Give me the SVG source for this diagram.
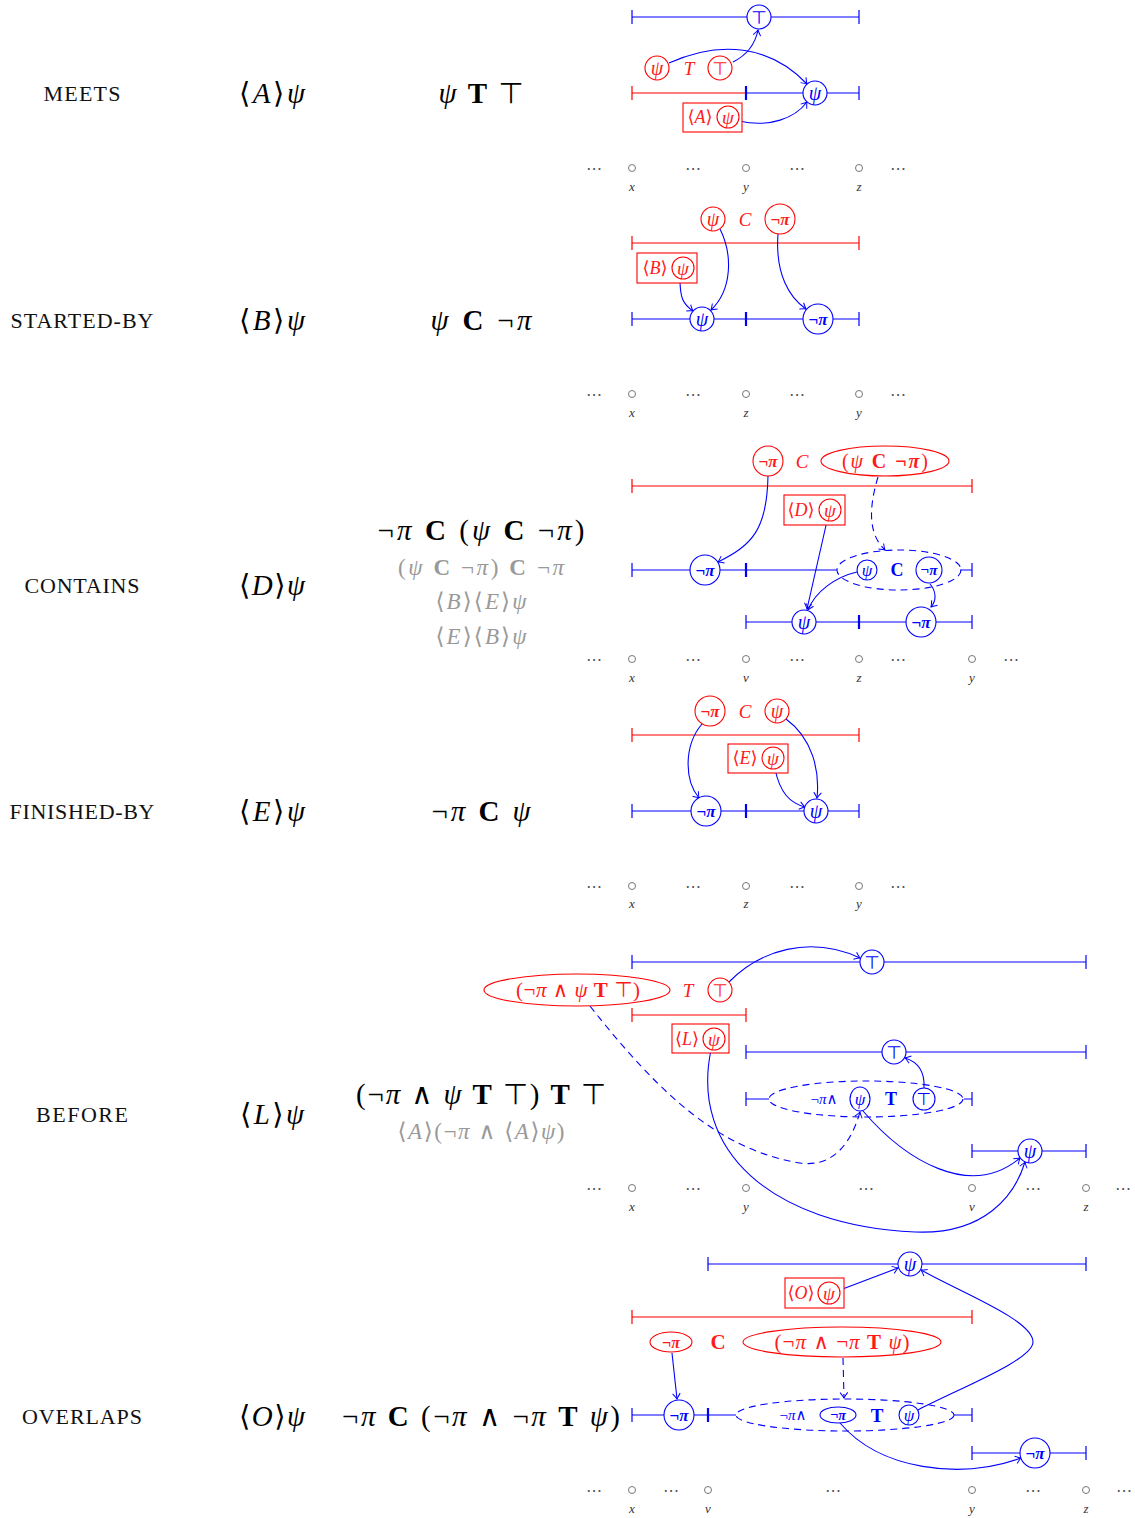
<svg xmlns="http://www.w3.org/2000/svg" width="1135" height="1518" viewBox="0 0 1135 1518">
<defs>
<style>
.bl{fill:none;stroke:#0000ff;stroke-width:1.2}
.rl{fill:none;stroke:#ff0000;stroke-width:1.2}
.tk{stroke-width:2.2}
.nb{fill:#fff;stroke:#0000ff;stroke-width:1.1}
.nr{fill:#fff;stroke:#ff0000;stroke-width:1.1}
.dsh{fill:none;stroke:#0000ff;stroke-width:1.1;stroke-dasharray:7 5}
.con{fill:none;stroke:#0000ff;stroke-width:1.1;marker-end:url(#ah)}
.cond{fill:none;stroke:#0000ff;stroke-width:1.1;stroke-dasharray:7 5;marker-end:url(#ah)}
text{font-family:"Liberation Serif","DejaVu Serif",serif;text-anchor:middle;dominant-baseline:central}
.lab{font-size:22px;fill:#111}
.f{font-size:29px;fill:#000}
.fg{font-size:23px;fill:#999}
.i{font-style:italic}
.bo{font-weight:bold}
.s{font-family:"DejaVu Sans",sans-serif;font-weight:normal;font-style:normal}
.cr{fill:#ff1a1a}
.cb{fill:#0000ff}
.dots{font-family:"DejaVu Sans",sans-serif;font-size:16px;fill:#555}
.pt{fill:none;stroke:#777;stroke-width:1}
.ax{font-style:italic;font-size:13px;fill:#333}
</style>
<marker id="ah" viewBox="-7 -5 8 10" refX="0" refY="0" markerWidth="8" markerHeight="10" markerUnits="userSpaceOnUse" orient="auto">
<path d="M-5.5,-3.8 Q-1.8,-0.9 0,0 Q-1.8,0.9 -5.5,3.8" fill="none" stroke="#0000ff" stroke-width="1"/>
</marker>
</defs>
<rect width="1135" height="1518" fill="#fff"/>

<!-- ===== Left column labels and formulas ===== -->
<g id="row-meets-text">
<text class="lab" x="82" y="93" textLength="77" lengthAdjust="spacing">MEETS</text>
<text class="f" x="272" y="93" textLength="66" lengthAdjust="spacing">⟨<tspan class="i">A</tspan>⟩<tspan class="i">ψ</tspan></text>
<text class="f" x="481" y="93" textLength="85" lengthAdjust="spacing"><tspan class="i">ψ</tspan> <tspan class="bo">T</tspan> <tspan class="s">⊤</tspan></text>
</g>
<g id="row-startedby-text">
<text class="lab" x="82" y="320" textLength="143" lengthAdjust="spacing">STARTED-BY</text>
<text class="f" x="272" y="320" textLength="66" lengthAdjust="spacing">⟨<tspan class="i">B</tspan>⟩<tspan class="i">ψ</tspan></text>
<text class="f" x="481" y="320" textLength="101" lengthAdjust="spacing"><tspan class="i">ψ</tspan> <tspan class="bo">C</tspan> ¬<tspan class="i">π</tspan></text>
</g>
<g id="row-contains-text">
<text class="lab" x="82" y="585" textLength="115" lengthAdjust="spacing">CONTAINS</text>
<text class="f" x="272" y="585" textLength="66" lengthAdjust="spacing">⟨<tspan class="i">D</tspan>⟩<tspan class="i">ψ</tspan></text>
<text class="f" x="481" y="530" textLength="207" lengthAdjust="spacing">¬<tspan class="i">π</tspan> <tspan class="bo">C</tspan> (<tspan class="i">ψ</tspan> <tspan class="bo">C</tspan> ¬<tspan class="i">π</tspan>)</text>
<text class="fg" x="481" y="567" textLength="166" lengthAdjust="spacing">(<tspan class="i">ψ</tspan> <tspan class="bo">C</tspan> ¬<tspan class="i">π</tspan>) <tspan class="bo">C</tspan> ¬<tspan class="i">π</tspan></text>
<text class="fg" x="481" y="601" textLength="91" lengthAdjust="spacing">⟨<tspan class="i">B</tspan>⟩⟨<tspan class="i">E</tspan>⟩<tspan class="i">ψ</tspan></text>
<text class="fg" x="481" y="636" textLength="91" lengthAdjust="spacing">⟨<tspan class="i">E</tspan>⟩⟨<tspan class="i">B</tspan>⟩<tspan class="i">ψ</tspan></text>
</g>
<g id="row-finishedby-text">
<text class="lab" x="82" y="811" textLength="145" lengthAdjust="spacing">FINISHED-BY</text>
<text class="f" x="272" y="811" textLength="66" lengthAdjust="spacing">⟨<tspan class="i">E</tspan>⟩<tspan class="i">ψ</tspan></text>
<text class="f" x="481" y="811" textLength="99" lengthAdjust="spacing">¬<tspan class="i">π</tspan> <tspan class="bo">C</tspan> <tspan class="i">ψ</tspan></text>
</g>
<g id="row-before-text">
<text class="lab" x="82" y="1114" textLength="92" lengthAdjust="spacing">BEFORE</text>
<text class="f" x="272" y="1114" textLength="64" lengthAdjust="spacing">⟨<tspan class="i">L</tspan>⟩<tspan class="i">ψ</tspan></text>
<text class="f" x="481" y="1094" textLength="250" lengthAdjust="spacing">(¬<tspan class="i">π</tspan> ∧ <tspan class="i">ψ</tspan> <tspan class="bo">T</tspan> <tspan class="s">⊤</tspan>) <tspan class="bo">T</tspan> <tspan class="s">⊤</tspan></text>
<text class="fg" x="481" y="1131" textLength="167" lengthAdjust="spacing">⟨<tspan class="i">A</tspan>⟩(¬<tspan class="i">π</tspan> ∧ ⟨<tspan class="i">A</tspan>⟩<tspan class="i">ψ</tspan>)</text>
</g>
<g id="row-overlaps-text">
<text class="lab" x="82" y="1416" textLength="120" lengthAdjust="spacing">OVERLAPS</text>
<text class="f" x="272" y="1416" textLength="66" lengthAdjust="spacing">⟨<tspan class="i">O</tspan>⟩<tspan class="i">ψ</tspan></text>
<text class="f" x="481" y="1416" textLength="278" lengthAdjust="spacing">¬<tspan class="i">π</tspan> <tspan class="bo">C</tspan> (¬<tspan class="i">π</tspan> ∧ ¬<tspan class="i">π</tspan> <tspan class="bo">T</tspan> <tspan class="i">ψ</tspan>)</text>
</g>

<!-- ===== Intervals ===== -->
<g id="intervals">
<path class="bl" d="M632,17H859M632,10V24M859,10V24"/>
<path class="rl" d="M632,93H746M632,86V100"/>
<path class="bl" d="M746,93H859M859,86V100"/>
<path class="bl tk" d="M746,86V100"/>
<path class="rl" d="M632,243H859M632,236V250M859,236V250"/>
<path class="bl" d="M632,319H859M632,312V326M859,312V326"/>
<path class="bl tk" d="M746,312V326"/>
<path class="rl" d="M632,486H972M632,479V493M972,479V493"/>
<path class="bl" d="M632,570H837M632,563V577M960,570H972M972,563V577"/>
<path class="bl tk" d="M746,563V577"/>
<path class="bl" d="M746,622H972M746,615V629M972,615V629"/>
<path class="bl tk" d="M859,615V629"/>
<path class="rl" d="M632,735H859M632,728V742M859,728V742"/>
<path class="bl" d="M632,811H859M632,804V818M859,804V818"/>
<path class="bl tk" d="M746,804V818"/>
<path class="bl" d="M632,962H1086M632,955V969M1086,955V969"/>
<path class="rl" d="M632,1015H746M632,1008V1022M746,1008V1022"/>
<path class="bl" d="M746,1052H1086M746,1045V1059M1086,1045V1059"/>
<path class="bl" d="M746,1092V1106M746,1099H769M964,1099H972M972,1092V1106"/>
<path class="bl" d="M972,1151H1086M972,1144V1158M1086,1144V1158"/>
<path class="bl" d="M708,1264H1086M708,1257V1271M1086,1257V1271"/>
<path class="rl" d="M632,1317H972M632,1310V1324M972,1310V1324"/>
<path class="bl" d="M632,1415H736M632,1408V1422M954,1415H972M972,1408V1422"/>
<path class="bl tk" d="M708,1408V1422"/>
<path class="bl" d="M972,1453H1086M972,1446V1460M1086,1446V1460"/>
</g>

<!-- ===== Connectors ===== -->
<g id="connectors">
<path class="con" d="M733,62C745,56 755,45 758,30"/>
<path class="con" d="M669,63C720,40 770,45 807,84"/>
<path class="con" d="M739,121C770,128 795,118 807,102"/>
<path class="con" d="M680,279C680,298 683,304 693,311"/>
<path class="con" d="M720,229C733,255 732,290 711,310"/>
<path class="con" d="M778,234C775,275 790,298 806,309"/>
<path class="con" d="M768,476C767,530 752,545 718,562"/>
<path class="cond" d="M878,477C868,510 869,535 885,550"/>
<path class="con" d="M827,521L807,609"/>
<path class="con" d="M857,572C835,577 815,592 808,610"/>
<path class="con" d="M930,584C936,591 937,600 931,607"/>
<path class="con" d="M702,724C684,745 684,780 699,798"/>
<path class="con" d="M786,719C812,738 820,770 817,798"/>
<path class="con" d="M775,769C780,793 790,803 805,807"/>
<path class="con" d="M729,982C760,950 810,935 860,958"/>
<path class="con" d="M924,1088C925,1072 918,1062 905,1058"/>
<path class="cond" d="M590,1006C660,1095 720,1150 800,1163C835,1168 852,1140 860,1112"/>
<path class="con" d="M711,1050C690,1150 770,1225 915,1232C985,1235 1015,1195 1025,1162"/>
<path class="con" d="M863,1111C905,1160 970,1200 1020,1158"/>
<path class="con" d="M840,1290L898,1268"/>
<path class="con" d="M918,1410C960,1388 1033,1360 1033,1342C1033,1320 960,1292 921,1270"/>
<path class="con" d="M672,1353L677,1399"/>
<path class="cond" d="M843,1358L844,1398"/>
<path class="con" d="M840,1423C880,1470 960,1480 1021,1458"/>
</g>

<!-- ===== Nodes: MEETS ===== -->
<g id="m-top-b"><circle class="nb" cx="759" cy="17" r="12"/><text class="s cb" x="759" y="17" font-size="18">⊤</text></g>
<g id="m-psi-r"><circle class="nr" cx="657" cy="68" r="12"/><text class="i cr" x="657" y="68" font-size="20">ψ</text></g>
<g id="m-T"><text class="i cr" x="689" y="68" font-size="19">T</text></g>
<g id="m-top-r"><circle class="nr" cx="720" cy="68" r="12"/><text class="s cr" x="720" y="68" font-size="18">⊤</text></g>
<g id="m-psi-b"><circle class="nb" cx="815" cy="93" r="12"/><text class="i cb" x="815" y="93" font-size="20">ψ</text></g>
<g id="m-box"><rect x="683" y="103" width="59" height="29" fill="#fff" stroke="#ff0000" stroke-width="1.1"/><text class="cr" x="700" y="117" font-size="18">⟨<tspan class="i">A</tspan>⟩</text><circle class="nr" cx="728" cy="117" r="11"/><text class="i cr" x="728" y="117" font-size="19">ψ</text></g>
<g id="m-axis">
<text class="dots" x="594" y="168">⋯</text><circle class="pt" cx="632" cy="168" r="3.5"/><text class="dots" x="693" y="168">⋯</text><circle class="pt" cx="746" cy="168" r="3.5"/><text class="dots" x="797" y="168">⋯</text><circle class="pt" cx="859" cy="168" r="3.5"/><text class="dots" x="898" y="168">⋯</text>
<text class="ax" x="632" y="186">x</text><text class="ax" x="746" y="186">y</text><text class="ax" x="859" y="186">z</text>
</g>

<!-- ===== Nodes: STARTED-BY ===== -->
<g id="s-psi-r"><circle class="nr" cx="713" cy="219" r="12"/><text class="i cr" x="713" y="219" font-size="20">ψ</text></g>
<g id="s-C"><text class="i cr" x="745" y="219" font-size="19">C</text></g>
<g id="s-npi-r"><circle class="nr" cx="780" cy="219" r="15"/><text class="bo cr" x="780" y="219" font-size="17">¬<tspan class="i">π</tspan></text></g>
<g id="s-box"><rect x="637" y="253" width="60" height="30" fill="#fff" stroke="#ff0000" stroke-width="1.1"/><text class="cr" x="655" y="268" font-size="18">⟨<tspan class="i">B</tspan>⟩</text><circle class="nr" cx="683" cy="268" r="11"/><text class="i cr" x="683" y="268" font-size="19">ψ</text></g>
<g id="s-psi-b"><circle class="nb" cx="702" cy="319" r="12"/><text class="i cb" x="702" y="319" font-size="20">ψ</text></g>
<g id="s-npi-b"><circle class="nb" cx="818" cy="319" r="15"/><text class="bo cb" x="818" y="319" font-size="17">¬<tspan class="i">π</tspan></text></g>
<g id="s-axis">
<text class="dots" x="594" y="394">⋯</text><circle class="pt" cx="632" cy="394" r="3.5"/><text class="dots" x="693" y="394">⋯</text><circle class="pt" cx="746" cy="394" r="3.5"/><text class="dots" x="797" y="394">⋯</text><circle class="pt" cx="859" cy="394" r="3.5"/><text class="dots" x="898" y="394">⋯</text>
<text class="ax" x="632" y="412">x</text><text class="ax" x="746" y="412">z</text><text class="ax" x="859" y="412">y</text>
</g>

<!-- ===== Nodes: CONTAINS ===== -->
<g id="c-npi-r"><circle class="nr" cx="768" cy="461" r="15"/><text class="bo cr" x="768" y="461" font-size="17">¬<tspan class="i">π</tspan></text></g>
<g id="c-C"><text class="i cr" x="802" y="461" font-size="19">C</text></g>
<g id="c-ell-r"><ellipse cx="885" cy="461" rx="64" ry="15" fill="#fff" stroke="#ff0000" stroke-width="1.1"/><text class="cr" x="885" y="461" font-size="20" textLength="86" lengthAdjust="spacing">(<tspan class="i">ψ</tspan> <tspan class="bo">C</tspan> <tspan class="bo">¬<tspan class="i">π</tspan></tspan>)</text></g>
<g id="c-box"><rect x="784" y="495" width="61" height="30" fill="#fff" stroke="#ff0000" stroke-width="1.1"/><text class="cr" x="801" y="510" font-size="18">⟨<tspan class="i">D</tspan>⟩</text><circle class="nr" cx="830" cy="510" r="11"/><text class="i cr" x="830" y="510" font-size="19">ψ</text></g>
<g id="c-npi-b1"><circle class="nb" cx="705" cy="570" r="15"/><text class="bo cb" x="705" y="570" font-size="17">¬<tspan class="i">π</tspan></text></g>
<g id="c-ell-b">
<ellipse class="dsh" cx="899" cy="570" rx="62" ry="20"/>
<circle class="nb" cx="867" cy="570" r="10"/><text class="i cb" x="867" y="570" font-size="17">ψ</text>
<text class="bo cb" x="897" y="570" font-size="18">C</text>
<circle class="nb" cx="929" cy="570" r="13"/><text class="bo cb" x="929" y="570" font-size="15">¬<tspan class="i">π</tspan></text>
</g>
<g id="c-psi-b"><circle class="nb" cx="804" cy="622" r="12"/><text class="i cb" x="804" y="622" font-size="20">ψ</text></g>
<g id="c-npi-b2"><circle class="nb" cx="921" cy="622" r="15"/><text class="bo cb" x="921" y="622" font-size="17">¬<tspan class="i">π</tspan></text></g>
<g id="c-axis">
<text class="dots" x="594" y="659">⋯</text><circle class="pt" cx="632" cy="659" r="3.5"/><text class="dots" x="693" y="659">⋯</text><circle class="pt" cx="746" cy="659" r="3.5"/><text class="dots" x="797" y="659">⋯</text><circle class="pt" cx="859" cy="659" r="3.5"/><text class="dots" x="898" y="659">⋯</text><circle class="pt" cx="972" cy="659" r="3.5"/><text class="dots" x="1011" y="659">⋯</text>
<text class="ax" x="632" y="677">x</text><text class="ax" x="746" y="677">v</text><text class="ax" x="859" y="677">z</text><text class="ax" x="972" y="677">y</text>
</g>

<!-- ===== Nodes: FINISHED-BY ===== -->
<g id="f-npi-r"><circle class="nr" cx="710" cy="711" r="15"/><text class="bo cr" x="710" y="711" font-size="17">¬<tspan class="i">π</tspan></text></g>
<g id="f-C"><text class="i cr" x="745" y="711" font-size="19">C</text></g>
<g id="f-psi-r"><circle class="nr" cx="777" cy="711" r="12"/><text class="i cr" x="777" y="711" font-size="20">ψ</text></g>
<g id="f-box"><rect x="728" y="744" width="60" height="29" fill="#fff" stroke="#ff0000" stroke-width="1.1"/><text class="cr" x="745" y="758" font-size="18">⟨<tspan class="i">E</tspan>⟩</text><circle class="nr" cx="773" cy="758" r="11"/><text class="i cr" x="773" y="758" font-size="19">ψ</text></g>
<g id="f-npi-b"><circle class="nb" cx="706" cy="811" r="15"/><text class="bo cb" x="706" y="811" font-size="17">¬<tspan class="i">π</tspan></text></g>
<g id="f-psi-b"><circle class="nb" cx="816" cy="811" r="12"/><text class="i cb" x="816" y="811" font-size="20">ψ</text></g>
<g id="f-axis">
<text class="dots" x="594" y="886">⋯</text><circle class="pt" cx="632" cy="886" r="3.5"/><text class="dots" x="693" y="886">⋯</text><circle class="pt" cx="746" cy="886" r="3.5"/><text class="dots" x="797" y="886">⋯</text><circle class="pt" cx="859" cy="886" r="3.5"/><text class="dots" x="898" y="886">⋯</text>
<text class="ax" x="632" y="903">x</text><text class="ax" x="746" y="903">z</text><text class="ax" x="859" y="903">y</text>
</g>

<!-- ===== Nodes: BEFORE ===== -->
<g id="b-top-b1"><circle class="nb" cx="872" cy="962" r="12"/><text class="s cb" x="872" y="962" font-size="18">⊤</text></g>
<g id="b-ell-r"><ellipse cx="577" cy="990" rx="93" ry="16" fill="#fff" stroke="#ff0000" stroke-width="1.1"/><text class="cr" x="578" y="990" font-size="21" textLength="124" lengthAdjust="spacing">(¬<tspan class="i">π</tspan> ∧ <tspan class="i">ψ</tspan> <tspan class="bo">T</tspan> <tspan class="s">⊤</tspan>)</text></g>
<g id="b-T"><text class="i cr" x="688" y="990" font-size="19">T</text></g>
<g id="b-top-r"><circle class="nr" cx="720" cy="990" r="12"/><text class="s cr" x="720" y="990" font-size="18">⊤</text></g>
<g id="b-box"><rect x="672" y="1024" width="57" height="29" fill="#fff" stroke="#ff0000" stroke-width="1.1"/><text class="cr" x="687" y="1039" font-size="18">⟨<tspan class="i">L</tspan>⟩</text><circle class="nr" cx="714" cy="1039" r="11"/><text class="i cr" x="714" y="1039" font-size="19">ψ</text></g>
<g id="b-top-b2"><circle class="nb" cx="894" cy="1052" r="12"/><text class="s cb" x="894" y="1052" font-size="18">⊤</text></g>
<g id="b-ell-b">
<ellipse class="dsh" cx="866" cy="1099" rx="97" ry="18"/>
<text class="cb" x="824" y="1099" font-size="15">¬<tspan class="i">π</tspan>∧</text>
<ellipse class="nb" cx="860" cy="1099" rx="10" ry="12"/><text class="i cb" x="860" y="1099" font-size="17">ψ</text>
<text class="bo cb" x="891" y="1099" font-size="18">T</text>
<circle class="nb" cx="924" cy="1099" r="11"/><text class="s cb" x="924" y="1099" font-size="17">⊤</text>
</g>
<g id="b-psi-b"><circle class="nb" cx="1030" cy="1151" r="12"/><text class="i cb" x="1030" y="1151" font-size="20">ψ</text></g>
<g id="b-axis">
<text class="dots" x="594" y="1188">⋯</text><circle class="pt" cx="632" cy="1188" r="3.5"/><text class="dots" x="693" y="1188">⋯</text><circle class="pt" cx="746" cy="1188" r="3.5"/><text class="dots" x="866" y="1188">⋯</text><circle class="pt" cx="972" cy="1188" r="3.5"/><text class="dots" x="1033" y="1188">⋯</text><circle class="pt" cx="1086" cy="1188" r="3.5"/><text class="dots" x="1123" y="1188">⋯</text>
<text class="ax" x="632" y="1206">x</text><text class="ax" x="746" y="1206">y</text><text class="ax" x="972" y="1206">v</text><text class="ax" x="1086" y="1206">z</text>
</g>

<!-- ===== Nodes: OVERLAPS ===== -->
<g id="o-psi-b1"><circle class="nb" cx="910" cy="1264" r="12"/><text class="i cb" x="910" y="1264" font-size="20">ψ</text></g>
<g id="o-box"><rect x="785" y="1278" width="59" height="30" fill="#fff" stroke="#ff0000" stroke-width="1.1"/><text class="cr" x="801" y="1293" font-size="18">⟨<tspan class="i">O</tspan>⟩</text><circle class="nr" cx="829" cy="1293" r="11"/><text class="i cr" x="829" y="1293" font-size="19">ψ</text></g>
<g id="o-npi-r"><ellipse cx="671" cy="1342" rx="21" ry="10" fill="#fff" stroke="#ff0000" stroke-width="1.1"/><text class="bo cr" x="671" y="1342" font-size="16">¬<tspan class="i">π</tspan></text></g>
<g id="o-C"><text class="bo cr" x="718" y="1342" font-size="21">C</text></g>
<g id="o-ell-r"><ellipse cx="842" cy="1342" rx="99" ry="15" fill="#fff" stroke="#ff0000" stroke-width="1.1"/><text class="cr" x="842" y="1342" font-size="21" textLength="135" lengthAdjust="spacing">(¬<tspan class="i">π</tspan> ∧ ¬<tspan class="i">π</tspan> <tspan class="bo">T</tspan> <tspan class="i">ψ</tspan>)</text></g>
<g id="o-npi-b1"><circle class="nb" cx="679" cy="1415" r="15"/><text class="bo cb" x="679" y="1415" font-size="17">¬<tspan class="i">π</tspan></text></g>
<g id="o-ell-b">
<ellipse class="dsh" cx="845" cy="1415" rx="109" ry="16"/>
<text class="cb" x="793" y="1415" font-size="15">¬<tspan class="i">π</tspan>∧</text>
<ellipse class="nb" cx="838" cy="1415" rx="18" ry="8"/><text class="bo cb" x="838" y="1415" font-size="14">¬<tspan class="i">π</tspan></text>
<text class="bo cb" x="877" y="1415" font-size="19">T</text>
<circle class="nb" cx="909" cy="1415" r="10"/><text class="i cb" x="909" y="1415" font-size="17">ψ</text>
</g>
<g id="o-npi-b2"><circle class="nb" cx="1035" cy="1453" r="15"/><text class="bo cb" x="1035" y="1453" font-size="17">¬<tspan class="i">π</tspan></text></g>
<g id="o-axis">
<text class="dots" x="594" y="1490">⋯</text><circle class="pt" cx="632" cy="1490" r="3.5"/><text class="dots" x="671" y="1490">⋯</text><circle class="pt" cx="708" cy="1490" r="3.5"/><text class="dots" x="833" y="1490">⋯</text><circle class="pt" cx="972" cy="1490" r="3.5"/><text class="dots" x="1033" y="1490">⋯</text><circle class="pt" cx="1086" cy="1490" r="3.5"/><text class="dots" x="1124" y="1490">⋯</text>
<text class="ax" x="632" y="1508">x</text><text class="ax" x="708" y="1508">v</text><text class="ax" x="972" y="1508">y</text><text class="ax" x="1086" y="1508">z</text>
</g>
</svg>
